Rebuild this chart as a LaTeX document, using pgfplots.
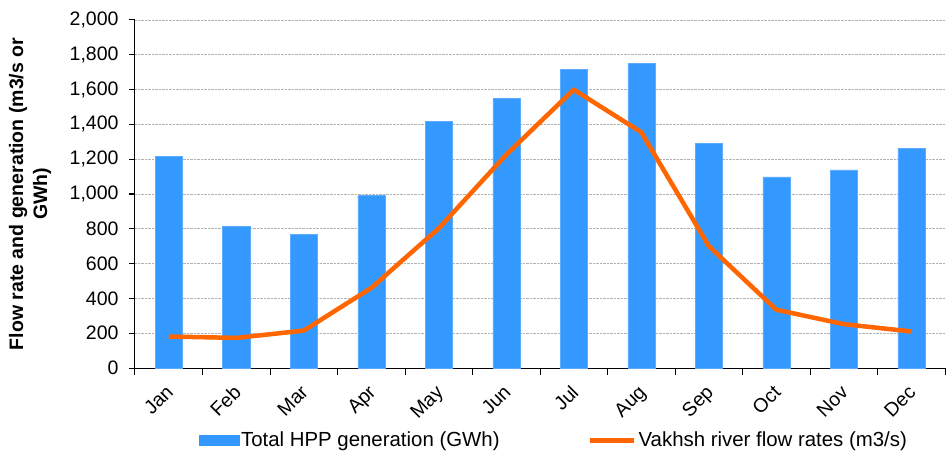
\documentclass[border=0pt]{standalone}
\usepackage{pgfplots}
\pgfplotsset{compat=1.18}
\usepackage{fontspec}
\setmainfont{Liberation Sans}
\definecolor{barblue}{HTML}{3399FF}
\definecolor{lineorange}{HTML}{FF6600}
\begin{document}
\begin{tikzpicture}
\begin{axis}[
  name=ax,
  scale only axis, width=810pt, height=348pt,
  xmin=-0.5, xmax=11.5, ymin=0, ymax=2000,
  axis x line*=bottom, axis y line*=left,
  axis line style={black, line width=1pt},
  ytick={0,200,...,2000},
  ymajorgrids,
  major grid style={densely dotted, gray!60, line width=0.7pt},
  xtick={0,...,11},
  xticklabels={Jan,Feb,Mar,Apr,May,Jun,Jul,Aug,Sep,Oct,Nov,Dec},
  major x tick style={draw=none},
  minor xtick={-0.5,0.5,1.5,2.5,3.5,4.5,5.5,6.5,7.5,8.5,9.5,10.5,11.5},
  minor x tick style={black, line width=1pt},
  major y tick style={black, line width=1pt},
  tick align=outside, major tick length=6pt, minor tick length=7pt,
  /pgf/number format/.cd, 1000 sep={,}, assume math mode=true,
  /pgfplots/.cd,
  ticklabel style={font=\fontsize{19.5}{22}\selectfont},
  yticklabel style={xshift=-7pt},
  xticklabel style={xshift=-4pt, yshift=-5pt, rotate=45, anchor=north east},
  ylabel={Flow rate and generation (m3/s or\\GWh)},
  ylabel style={at={(axis description cs:-0.1296,0.5)}, anchor=center, align=center,
    font=\fontsize{19.5}{24}\selectfont\bfseries},
  legend columns=2,
  legend style={at={(axis description cs:0.517,-0.207)}, anchor=center, draw=none,
    font=\fontsize{20.4}{24}\selectfont,
    /tikz/every even column/.append style={column sep=86pt},
    nodes={inner sep=2pt}},
]
\addplot[ybar, bar width=27pt, fill=barblue, draw=barblue!80!white, line width=0.5pt,
  legend image code/.code={\fill[barblue] (0pt,-5pt) rectangle (40pt,5pt);}]
  coordinates {(0,1218) (1,816) (2,770) (3,994) (4,1416) (5,1548) (6,1716) (7,1751) (8,1293) (9,1098) (10,1138) (11,1264)};
\addlegendentry{Total HPP generation (GWh)}
\addplot[sharp plot, lineorange, line width=4.5pt, line join=round, mark=none,
  legend image code/.code={\draw[lineorange, line width=5pt] (0pt,0pt) -- (44pt,0pt);}]
  coordinates {(0,181) (1,173) (2,215) (3,460) (4,803) (5,1226) (6,1600) (7,1355) (8,701) (9,335) (10,252) (11,210)};
\addlegendentry{Vakhsh river flow rates (m3/s)}
\end{axis}
\pgfresetboundingbox
\path ([xshift=-135pt,yshift=-87pt]ax.south west) rectangle ([xshift=2pt,yshift=20pt]ax.north east);
\end{tikzpicture}
\end{document}
